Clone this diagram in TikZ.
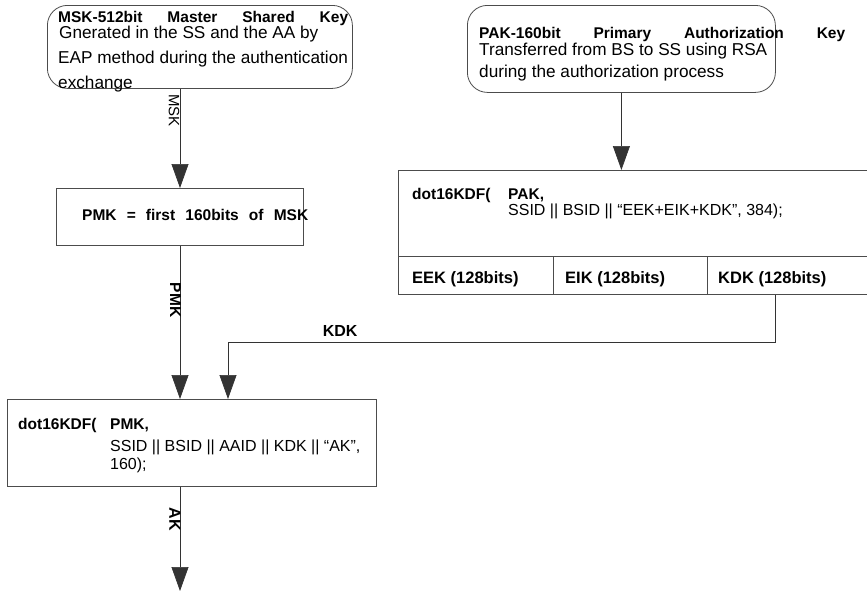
\documentclass[tikz,border=0pt]{standalone}
\usepackage{fontspec}
\setmainfont{Liberation Sans}
\usetikzlibrary{positioning}
\usetikzlibrary{arrows.meta,calc}

\tikzset{
  keybox/.style={draw=black!70, line width=0.8pt, rounded corners=20pt, anchor=north west, inner sep=0pt},
  kdfbox/.style={draw=black!70, line width=0.8pt, anchor=north west, inner sep=0pt},
  titletext/.style={anchor=base west, inner sep=0pt, font=\bfseries\fontsize{15.5}{18}\selectfont},
  bodytext/.style={anchor=base west, inner sep=0pt, font=\fontsize{17.2}{19}\selectfont},
  kdftext/.style={anchor=base west, inner sep=0pt, font=\fontsize{16}{19}\selectfont},
  flow/.style={draw=black!80, line width=0.7pt, -{Triangle[width=17pt,length=24pt]}},
  flowlabel/.style={inner sep=0pt, font=\fontsize{15}{15}\selectfont}
}

\begin{document}
\begin{tikzpicture}[x=1pt, y=-1pt]
\useasboundingbox (0,0) rectangle (867,592);

\node[keybox, minimum width=305pt, minimum height=83pt] (mskbox) at (47,5) {};
\node[titletext] (msktitle) at (58,22) {\makebox[290pt][s]{MSK-512bit Master Shared Key}};
\node[bodytext] (msklinea) at (59,38) {Gnerated in the SS and the AA by};
\node[bodytext] (msklineb) at (58,63) {EAP method during the authentication};
\node[bodytext] (msklinec) at (58,88) {exchange};

\node[keybox, minimum width=308pt, minimum height=87pt] (pakbox) at (467,5) {};
\node[titletext] (paktitle) at (479,38) {\makebox[366pt][s]{PAK-160bit Primary Authorization Key}};
\node[bodytext] (paklinea) at (479,55) {Transferred from BS to SS using RSA};
\node[bodytext] (paklineb) at (479,77) {during the authorization process};

\node[kdfbox, minimum width=247pt, minimum height=57pt] (pmkbox) at (56,188) {};
\node[titletext] (pmktext) at (82,220) {\makebox[226pt][s]{PMK = first 160bits of MSK}};

\node[kdfbox, minimum width=472pt, minimum height=86pt] (pakkdf) at (398,170) {};
\node[titletext] (pakkdfa) at (412,199) {dot16KDF(};
\node[titletext] (pakkdfb) at (508,199) {PAK,};
\node[kdftext] (pakkdfc) at (508,215) {SSID || BSID || “EEK+EIK+KDK”, 384);};

\node[kdfbox, minimum width=155pt, minimum height=38pt] (eekcell) at (398,256) {};
\node[kdfbox, minimum width=154pt, minimum height=38pt] (eikcell) at (553,256) {};
\node[kdfbox, minimum width=170pt, minimum height=38pt] (kdkcell) at (707,256) {};
\node[titletext, font=\bfseries\fontsize{16.5}{18}\selectfont] (eektext) at (412,283) {EEK (128bits)};
\node[titletext, font=\bfseries\fontsize{16.5}{18}\selectfont] (eiktext) at (565,283) {EIK (128bits)};
\node[titletext, font=\bfseries\fontsize{16.5}{18}\selectfont] (kdktext) at (718,283) {KDK (128bits)};

\node[kdfbox, minimum width=369pt, minimum height=87pt] (pmkkdf) at (7,399) {};
\node[titletext] (pmkkdfa) at (18,429) {dot16KDF(};
\node[titletext] (pmkkdfb) at (110,429) {PMK,};
\node[kdftext] (pmkkdfc) at (110,451) {SSID || BSID || AAID || KDK || “AK”,};
\node[kdftext] (pmkkdfd) at (110,469) {160);};

\coordinate (spine) at (180,0);
\coordinate (kdkbend) at (775,342);
\coordinate (kdkdrop) at (228,342);
\coordinate (akout) at (180,591);

\draw[flow] (mskbox.south -| spine) -- node[flowlabel, pos=0.22, xshift=-6pt, rotate=-90] {MSK} (pmkbox.north -| spine);
\draw[flow] (pmkbox.south -| spine) -- node[flowlabel, pos=0.354, xshift=-4.5pt, rotate=-90, font=\bfseries\fontsize{15.5}{15}\selectfont] {PMK} (pmkkdf.north -| spine);
\draw[flow] (pmkkdf.south -| spine) -- node[flowlabel, pos=0.31, xshift=-5pt, rotate=-90, font=\bfseries\fontsize{16}{16}\selectfont] {AK} (akout);
\draw[flow] (pakbox.south) -- (pakbox.south |- pakkdf.north);
\draw[flow] (kdkcell.south -| kdkbend) -- (kdkbend) -- node[flowlabel, pos=0.795, above, inner sep=5pt, font=\bfseries\fontsize{16}{16}\selectfont] {KDK} (kdkdrop) -- (pmkkdf.north -| kdkdrop);

\end{tikzpicture}
\end{document}
